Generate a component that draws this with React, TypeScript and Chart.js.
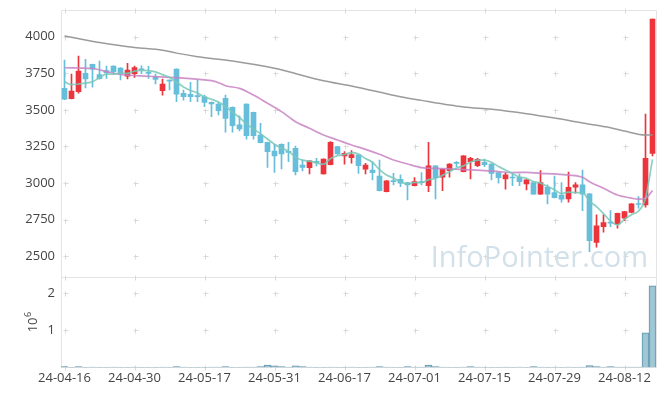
import React, { useEffect, useRef } from 'react';
import { Chart, registerables } from 'chart.js';

Chart.register(...registerables);

const dates = [
  '24-04-16','24-04-17','24-04-18','24-04-19','24-04-22','24-04-23','24-04-24','24-04-25','24-04-26','24-04-29','24-04-30',
  '24-05-02','24-05-03','24-05-07','24-05-08','24-05-09','24-05-10','24-05-13','24-05-14','24-05-16','24-05-17',
  '24-05-20','24-05-21','24-05-22','24-05-23','24-05-24','24-05-27','24-05-28','24-05-29','24-05-30','24-05-31',
  '24-06-03','24-06-04','24-06-05','24-06-07','24-06-10','24-06-11','24-06-12','24-06-13','24-06-14','24-06-17',
  '24-06-18','24-06-19','24-06-20','24-06-21','24-06-24','24-06-25','24-06-26','24-06-27','24-06-28','24-07-01',
  '24-07-02','24-07-03','24-07-04','24-07-05','24-07-08','24-07-09','24-07-10','24-07-11','24-07-12','24-07-15',
  '24-07-16','24-07-17','24-07-18','24-07-19','24-07-22','24-07-23','24-07-24','24-07-25','24-07-26','24-07-29',
  '24-07-30','24-07-31','24-08-01','24-08-02','24-08-05','24-08-06','24-08-07','24-08-08','24-08-09','24-08-12',
  '24-08-13','24-08-14','24-08-16','24-08-19'
];

const xTickLabels = ['24-04-16','24-04-30','24-05-17','24-05-31','24-06-17','24-07-01','24-07-15','24-07-29','24-08-12'];
const priceTicks = [2500, 2750, 3000, 3250, 3500, 3750, 4000];
const volumeTicks = [1000000, 2000000];

const opens = [
  3647,3577,3624,3750,3812,3742,3768,3800,3785,3731,
  3747,3781,3757,3727,3631,3703,3779,3613,3606,3598,
  3590,3552,3540,3579,3517,3397,3540,3483,3328,3278,
  3219,3265,3216,3237,3123,3105,3148,3062,3126,3249,
  3185,3173,3192,3094,3089,3048,2941,3016,3025,3003,
  2982,3009,2982,3117,3039,3085,3141,3078,3146,3119,
  3142,3130,3071,3028,3041,3039,2994,3003,2923,2971,
  2935,2918,2891,2971,2987,2925,2593,2702,2733,2720,
  2759,2798,2860,2850,3203
];
const highs = [
  3841,3745,3868,3845,3814,3834,3800,3802,3790,3818,
  3800,3802,3797,3745,3711,3705,3781,3636,3688,3704,
  3601,3555,3551,3601,3520,3460,3542,3485,3408,3280,
  3265,3268,3278,3253,3157,3153,3169,3166,3283,3251,
  3214,3221,3194,3135,3146,3157,3016,3066,3055,3005,
  3037,3071,3278,3119,3096,3132,3146,3187,3176,3169,
  3164,3132,3073,3071,3062,3062,3023,3005,3085,2987,
  3048,3003,3074,3003,3089,2928,2782,2782,2811,2795,
  2807,2860,2907,3472,4121
];
const lows = [
  3570,3575,3615,3650,3655,3710,3715,3745,3705,3711,
  3722,3747,3715,3677,3601,3636,3556,3567,3556,3556,
  3522,3454,3465,3347,3347,3356,3299,3299,3274,3107,
  3073,3096,3146,3055,3082,3062,3116,3060,3123,3196,
  3128,3135,3066,3062,3021,2946,2939,2987,2975,2884,
  2980,2987,2941,2891,2948,3039,3112,3076,3028,3112,
  3112,3021,2998,2957,2982,2982,2953,2921,2921,2857,
  2898,2868,2868,2930,2811,2531,2561,2663,2702,2691,
  2743,2795,2827,2834,3185
];
const closes = [
  3574,3628,3765,3712,3779,3714,3752,3762,3750,3772,
  3790,3774,3750,3709,3677,3696,3608,3590,3590,3591,
  3551,3540,3495,3442,3392,3369,3324,3324,3276,3214,
  3185,3198,3209,3078,3107,3151,3139,3164,3278,3198,
  3203,3194,3119,3123,3071,2948,3014,3009,2998,2987,
  3009,3002,3117,3037,3094,3130,3134,3185,3169,3162,
  3126,3066,3037,3055,3034,3009,3021,2923,3003,2923,
  2900,2889,2971,2987,2923,2606,2707,2730,2726,2793,
  2805,2857,2853,3169,4121
];
const volumes = [
  25000,5000,25000,4000,6000,3000,5000,6000,4000,5000,
  7000,3000,5000,4000,6000,5000,25000,6000,5000,4000,
  5000,6000,7000,25000,5000,5000,6000,8000,25000,65000,
  45000,25000,7000,45000,25000,6000,5000,5000,8000,4000,
  5000,6000,5000,4000,6000,25000,7000,5000,5000,25000,
  6000,8000,65000,25000,7000,5000,5000,6000,25000,6000,
  5000,4000,5000,6000,5000,7000,5000,25000,8000,5000,
  6000,5000,7000,5000,8000,50000,25000,7000,25000,6000,
  7000,9000,10000,930000,2200000
];
const ma5 = [
  3693,3672,3677,3683,3692,3720,3744,3744,3751,3750,
  3765,3770,3769,3760,3741,3723,3689,3657,3633,3616,
  3587,3573,3554,3524,3484,3448,3404,3370,3337,3301,
  3265,3239,3217,3177,3156,3149,3137,3128,3168,3186,
  3196,3207,3198,3167,3142,3091,3055,3034,3009,2992,
  3004,3002,3023,3031,3052,3077,3103,3117,3143,3157,
  3156,3142,3112,3089,3064,3041,3032,3009,2999,2976,
  2954,2928,2937,2934,2934,2875,2839,2791,2739,2713,
  2753,2783,2808,2896,3161
];
const ma20Idx = [0,4,6,8,12,16,20,21,22,23,25,27,29,31,33,35,37,39,41,43,45,47,49,51,53,55,58,60,62,64,66,68,70,72,74,75,77,79,81,82,83,84];
const ma20Val = [3788,3783,3762,3742,3730,3720,3705,3700,3686,3665,3647,3601,3545,3488,3419,3374,3328,3294,3260,3230,3196,3157,3130,3105,3100,3096,3089,3085,3078,3071,3073,3066,3062,3055,3039,3009,2964,2918,2896,2889,2896,2948];
const ma60Idx = [0,3,5,10,14,16,19,22,24,30,37,41,48,51,55,57,61,66,70,74,78,80,83,84];
const ma60Val = [4005,3978,3961,3927,3908,3888,3864,3846,3834,3784,3699,3663,3590,3565,3533,3520,3504,3474,3444,3410,3378,3355,3328,3328];

const RED = '#ec343c';
const BLUE = '#66bedb';
const FONT = '"Open Sans", "Noto Sans", sans-serif';

const decorPlugin = {
  id: 'decor',
  beforeDatasetsDraw(chart: any) {
    const { ctx } = chart;
    const x = chart.scales.x;
    const y = chart.scales.y;
    const yv = chart.scales.yv;
    ctx.save();
    // watermark
    ctx.font = '29px ' + FONT;
    ctx.fillStyle = 'rgba(178,203,218,0.6)';
    ctx.textAlign = 'right';
    ctx.textBaseline = 'alphabetic';
    ctx.fillText('InfoPointer.com', x.right - 8, y.bottom - 10);
    // borders
    ctx.strokeStyle = '#e4e4e4';
    ctx.lineWidth = 1;
    const L = Math.round(x.left) + 0.5;
    const R = Math.round(x.right) + 0.5;
    const T = Math.round(y.top) + 0.5;
    const S = Math.round(y.bottom) + 0.5;
    const B = Math.round(yv.bottom) + 0.5;
    ctx.beginPath();
    ctx.moveTo(L, T); ctx.lineTo(R, T); ctx.lineTo(R, B); ctx.lineTo(L, B); ctx.closePath();
    ctx.moveTo(L, S); ctx.lineTo(R, S);
    ctx.stroke();
    // crosses
    ctx.strokeStyle = '#dadada';
    ctx.beginPath();
    const xs = xTickLabels.map((l) => Math.round(x.getPixelForValue(dates.indexOf(l))) + 0.5);
    const ys: number[] = [];
    priceTicks.forEach((v) => ys.push(Math.round(y.getPixelForValue(v)) + 0.5));
    volumeTicks.forEach((v) => ys.push(Math.round(yv.getPixelForValue(v)) + 0.5));
    xs.forEach((px) => {
      ys.forEach((py) => {
        ctx.moveTo(px - 2, py); ctx.lineTo(px + 3, py);
        ctx.moveTo(px, py - 2); ctx.lineTo(px, py + 3);
      });
      [T, S, B].forEach((py) => {
        ctx.moveTo(px, py - 2); ctx.lineTo(px, py + 3);
      });
    });
    ctx.stroke();
    // volume axis title 10^6
    ctx.translate(24, (yv.top + yv.bottom) / 2);
    ctx.rotate(-Math.PI / 2);
    ctx.fillStyle = '#444';
    ctx.textBaseline = 'alphabetic';
    ctx.textAlign = 'left';
    ctx.font = '13px ' + FONT;
    const w10 = ctx.measureText('10').width;
    ctx.font = '9px ' + FONT;
    const w6 = ctx.measureText('6').width;
    const start = -(w10 + w6) / 2;
    ctx.font = '13px ' + FONT;
    ctx.fillText('10', start, 5);
    ctx.font = '9px ' + FONT;
    ctx.fillText('6', start + w10 + 0.5, -1);
    ctx.restore();
  },
};

const noPad = (s: any) => {
  s.paddingTop = 0;
  s.paddingBottom = 0;
  s.paddingLeft = 0;
  s.paddingRight = 0;
};

export default function App() {
  const ref = useRef<HTMLCanvasElement | null>(null);
  useEffect(() => {
    if (!ref.current) return;
    const colors = opens.map((o, i) => (closes[i] >= o ? RED : BLUE));
    const chart = new Chart(ref.current, {
      type: 'bar',
      data: {
        labels: dates,
        datasets: [
          {
            type: 'line',
            data: ma5.map((v, i) => ({ x: dates[i], y: v })),
            borderColor: 'rgba(120,200,185,0.85)',
            borderWidth: 1.7,
            pointRadius: 0,
            cubicInterpolationMode: 'monotone',
            yAxisID: 'y',
            order: 1,
          },
          {
            type: 'line',
            data: ma20Idx.map((idx, k) => ({ x: dates[idx], y: ma20Val[k] })),
            borderColor: 'rgba(200,130,195,0.85)',
            borderWidth: 1.7,
            pointRadius: 0,
            cubicInterpolationMode: 'monotone',
            yAxisID: 'y',
            order: 1,
          },
          {
            type: 'line',
            data: ma60Idx.map((idx, k) => ({ x: dates[idx], y: ma60Val[k] })),
            borderColor: 'rgba(150,150,150,0.95)',
            borderWidth: 1.5,
            pointRadius: 0,
            cubicInterpolationMode: 'monotone',
            yAxisID: 'y',
            order: 1,
          },
          {
            type: 'bar',
            data: lows.map((l, i) => [l, highs[i]]),
            backgroundColor: colors,
            barThickness: 1,
            grouped: false,
            yAxisID: 'y',
            order: 3,
          },
          {
            type: 'bar',
            data: opens.map((o, i) => [o, closes[i]]),
            backgroundColor: colors,
            barThickness: 5,
            grouped: false,
            yAxisID: 'y',
            order: 2,
          },
          {
            type: 'bar',
            data: volumes,
            backgroundColor: 'rgba(150,193,210,0.9)',
            borderColor: 'rgba(85,140,165,0.9)',
            borderWidth: 1,
            barPercentage: 1,
            categoryPercentage: 1,
            grouped: false,
            yAxisID: 'yv',
            order: 4,
          },
        ] as any,
      },
      options: {
        responsive: true,
        maintainAspectRatio: false,
        animation: false,
        layout: { padding: { top: 2, right: 1, left: 0, bottom: 0 } },
        plugins: { legend: { display: false }, tooltip: { enabled: false } },
        scales: {
          x: {
            type: 'category',
            offset: true,
            grid: { display: false, drawTicks: false },
            border: { display: false },
            ticks: {
              autoSkip: false,
              maxRotation: 0,
              minRotation: 0,
              padding: 3,
              color: '#444',
              font: { family: FONT, size: 13 },
              callback: (_v: any, i: number) => (xTickLabels.includes(dates[i]) ? dates[i] : ''),
            },
            afterFit: noPad,
          },
          yv: {
            type: 'linear',
            position: 'left',
            stack: 'main',
            stackWeight: 90,
            min: 0,
            max: 2430000,
            grid: { display: false, drawTicks: false },
            border: { display: false },
            ticks: {
              padding: 6,
              color: '#444',
              font: { family: FONT, size: 13 },
              callback: (v: any) => String(v / 1000000),
            },
            afterBuildTicks: (s: any) => { s.ticks = volumeTicks.map((v) => ({ value: v })); },
            afterFit: (s: any) => { s.width = 53; noPad(s); },
          },
          y: {
            type: 'linear',
            position: 'left',
            stack: 'main',
            stackWeight: 267,
            min: 2355,
            max: 4183,
            grid: { display: false, drawTicks: false },
            border: { display: false },
            ticks: {
              padding: 6,
              color: '#444',
              font: { family: FONT, size: 13 },
              callback: (v: any) => String(v),
            },
            afterBuildTicks: (s: any) => { s.ticks = priceTicks.map((v) => ({ value: v })); },
            afterFit: (s: any) => { s.width = 53; noPad(s); },
          },
        },
      } as any,
      plugins: [decorPlugin],
    });
    return () => chart.destroy();
  }, []);
  return (
    <div style={{ width: 649, height: 381, marginBottom: -1, position: 'relative' }}>
      <canvas ref={ref} />
    </div>
  );
}
